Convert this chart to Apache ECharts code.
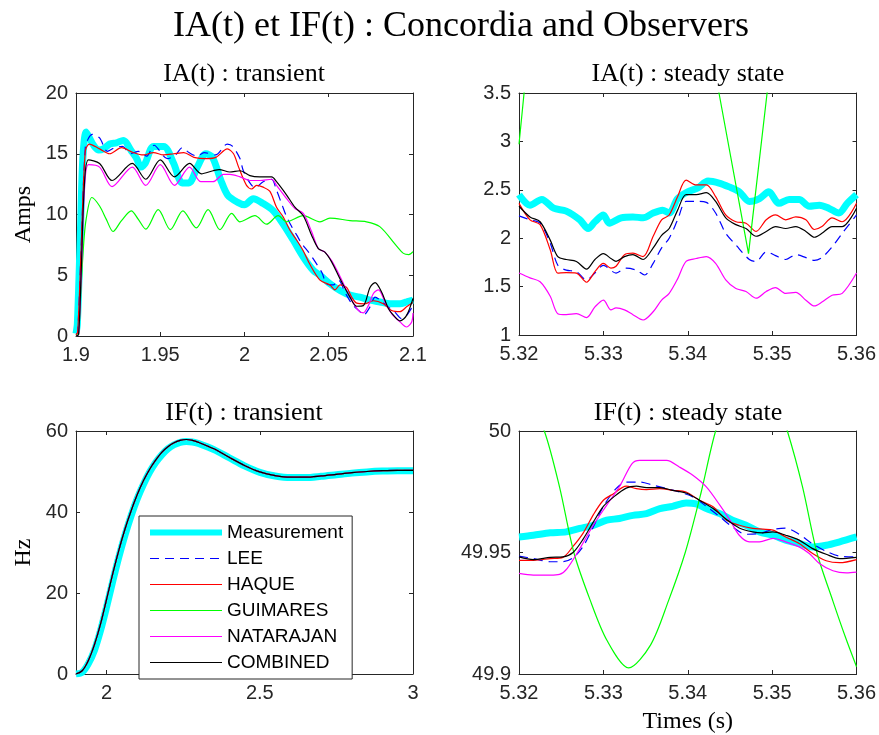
<!DOCTYPE html>
<html>
<head>
<meta charset="utf-8">
<script src="https://cdn.jsdelivr.net/npm/echarts@6/dist/echarts.min.js"></script>
<style>
html,body{margin:0;padding:0;background:#fff;}
#main{width:879px;height:735px;}
</style>
</head>
<body>
<div id="main"></div>
<script>
// legend names, in plot order
var names = ['Measurement', 'LEE', 'HAQUE', 'GUIMARES', 'NATARAJAN', 'COMBINED'];

// ---- IA(t) : transient ----
var iaTrMeasT = [1.9, 1.9008, 1.9025, 1.904, 1.906, 1.908, 1.9104, 1.9135, 1.9163, 1.92, 1.924, 1.928, 1.933, 1.936, 1.9385, 1.941, 1.946, 1.952, 1.958, 1.963, 1.967, 1.972, 1.977, 1.981, 1.986, 1.99, 1.996, 2.0, 2.0052, 2.0111, 2.0171, 2.023, 2.0289, 2.0349, 2.0408, 2.0448, 2.0507, 2.0567, 2.0626, 2.0685, 2.0745, 2.0804, 2.0864, 2.0923, 2.0962, 2.1];
var iaTrMeasV = [0.2, 1, 8, 14.5, 16.8, 16.3, 15.7, 15.3, 15.4, 15.8, 15.9, 16.1, 15.2, 14.6, 13.9, 14.2, 15.6, 15.6, 14.2, 12.6, 12.6, 13.9, 15.0, 14.7, 12.8, 11.6, 11.0, 10.8, 11.3, 10.9, 10.3, 9.2, 7.9, 6.5, 5.4, 5.0, 4.3, 3.75, 3.36, 3.2, 2.95, 2.8, 2.65, 2.65, 2.8, 2.95];
var iaTrLeeT = [1.9, 1.901, 1.903, 1.9055, 1.9075, 1.9097, 1.914, 1.9186, 1.923, 1.9275, 1.9324, 1.937, 1.942, 1.9463, 1.9542, 1.9591, 1.963, 1.967, 1.972, 1.976, 1.9828, 1.9898, 1.993, 1.9973, 1.9993, 2.0032, 2.0062, 2.0111, 2.0161, 2.019, 2.022, 2.025, 2.028, 2.031, 2.034, 2.038, 2.042, 2.046, 2.0487, 2.0527, 2.0557, 2.06, 2.064, 2.0685, 2.0705, 2.0745, 2.0775, 2.081, 2.085, 2.089, 2.0933, 2.0962, 2.1];
var iaTrLeeV = [0.1, 0.3, 7, 15.5, 16.3, 16.6, 16.3, 15.2, 15.5, 15.6, 15.0, 15.2, 14.8, 15.7, 14.6, 14.9, 15.5, 15.1, 14.8, 15.1, 14.9, 15.8, 15.6, 14.6, 13.6, 12.6, 12.2, 12.7, 12.9, 12.0, 10.9, 9.8, 9.0, 8.3, 7.6, 6.9, 6.1, 5.2, 4.3, 4.2, 4.6, 3.5, 2.6, 2.0, 1.7, 2.4, 3.2, 2.9, 2.4, 2.0, 1.43, 1.7, 2.5];
var iaTrHaqT = [1.9, 1.901, 1.903, 1.9055, 1.908, 1.914, 1.92, 1.927, 1.934, 1.94, 1.946, 1.952, 1.958, 1.964, 1.97, 1.978, 1.983, 1.9898, 1.9935, 1.9965, 2.0012, 2.0042, 2.0072, 2.0111, 2.0151, 2.019, 2.023, 2.027, 2.0309, 2.0349, 2.0388, 2.0448, 2.0507, 2.0537, 2.0567, 2.0606, 2.0636, 2.0666, 2.0715, 2.0765, 2.0824, 2.0873, 2.0923, 2.0962, 2.1];
var iaTrHaqV = [0.1, 0.3, 7, 15.2, 15.8, 15.4, 15.0, 15.5, 15.1, 14.9, 15.1, 14.9, 15.0, 15.1, 14.7, 14.6, 14.7, 15.4, 15.0, 13.9, 12.4, 12.1, 12.4, 12.25, 11.9, 10.6, 9.8, 8.7, 7.9, 7.0, 5.9, 4.6, 4.2, 3.8, 4.2, 4.0, 3.2, 2.7, 2.65, 2.9, 2.65, 2.1, 2.0, 2.4, 2.75];
var iaTrGuiT = [1.9, 1.9015, 1.903, 1.9045, 1.906, 1.9094, 1.914, 1.918, 1.922, 1.927, 1.9328, 1.937, 1.9414, 1.9488, 1.956, 1.9634, 1.9714, 1.9784, 1.9854, 1.9924, 1.9973, 2.0062, 2.0131, 2.02, 2.025, 2.0349, 2.0448, 2.0507, 2.0626, 2.0724, 2.0803, 2.0903, 2.0943, 2.0975, 2.1];
var iaTrGuiV = [0, 0.2, 4, 7.5, 9.6, 11.4, 10.7, 9.6, 8.6, 9.5, 10.3, 9.6, 8.8, 10.4, 8.75, 10.3, 8.9, 10.4, 8.75, 10.1, 9.4, 9.9, 9.2, 9.9, 9.4, 9.9, 9.4, 9.7, 9.5, 9.4, 9.0, 7.4, 6.8, 6.7, 6.95];
var iaTrNatT = [1.9, 1.9015, 1.903, 1.905, 1.9074, 1.914, 1.9214, 1.9334, 1.9414, 1.95, 1.9584, 1.9674, 1.974, 1.9813, 1.9875, 1.9913, 1.9973, 2.0032, 2.0091, 2.0161, 2.019, 2.025, 2.0299, 2.0349, 2.0398, 2.0438, 2.0477, 2.0517, 2.0567, 2.0626, 2.0676, 2.0705, 2.0735, 2.0765, 2.0795, 2.0834, 2.0873, 2.0923, 2.0962, 2.0992, 2.1];
var iaTrNatV = [0, 0.1, 4.5, 12, 14.1, 13.9, 12.3, 13.9, 12.4, 14.1, 12.4, 13.9, 12.7, 12.7, 13.3, 13.3, 13.1, 12.8, 12.8, 12.9, 12.4, 11.3, 10.5, 10.1, 8.6, 7.2, 6.9, 6.2, 4.9, 3.2, 2.1, 1.9, 2.5, 3.5, 3.8, 2.8, 1.85, 1.16, 0.74, 1.16, 1.9];
var iaTrComT = [1.9, 1.9015, 1.903, 1.905, 1.9074, 1.914, 1.9214, 1.9334, 1.9414, 1.95, 1.9584, 1.9674, 1.9744, 1.9813, 1.985, 1.9913, 1.9973, 2.0032, 2.0091, 2.0161, 2.019, 2.025, 2.0299, 2.0349, 2.0398, 2.0438, 2.0477, 2.0517, 2.0567, 2.0626, 2.0666, 2.0705, 2.0745, 2.0775, 2.0814, 2.0854, 2.0893, 2.0923, 2.0962, 2.1];
var iaTrComV = [0, 0.1, 5, 12.5, 14.5, 14.2, 12.8, 14.2, 12.9, 14.5, 13.1, 14.2, 13.35, 13.6, 13.7, 13.5, 13.6, 13.2, 13.1, 13.1, 12.7, 11.6, 10.6, 9.9, 8.3, 7.2, 6.9, 6.1, 4.7, 3.2, 2.45, 2.5, 4.0, 4.4, 3.6, 2.26, 1.57, 1.24, 1.7, 3.1];

// ---- IA(t) : steady state ----
var iaSsT = [5.3200, 5.3213, 5.3225, 5.3237, 5.3246, 5.3256, 5.3268, 5.3280, 5.3290, 5.3300, 5.3309, 5.3315, 5.3325, 5.3335, 5.3347, 5.3359, 5.3369, 5.3378, 5.3388, 5.3398, 5.3410, 5.3422, 5.3433, 5.3445, 5.3457, 5.3469, 5.3481, 5.3493, 5.3504, 5.3516, 5.3528, 5.3540, 5.3550, 5.3559, 5.3571, 5.3583, 5.3600];
var iaSsMeasT = [5.3200, 5.3213, 5.3227, 5.3241, 5.3256, 5.3272, 5.3282, 5.3290, 5.3300, 5.3307, 5.3321, 5.3335, 5.3347, 5.3359, 5.3370, 5.3378, 5.3388, 5.3400, 5.3412, 5.3424, 5.3437, 5.3449, 5.3461, 5.3473, 5.3485, 5.3496, 5.3508, 5.3520, 5.3532, 5.3544, 5.3556, 5.3567, 5.3579, 5.3589, 5.3600];
var iaSsMeasV = [2.45, 2.34, 2.40, 2.31, 2.28, 2.19, 2.10, 2.17, 2.24, 2.155, 2.21, 2.22, 2.21, 2.26, 2.29, 2.26, 2.41, 2.48, 2.52, 2.59, 2.57, 2.53, 2.48, 2.38, 2.41, 2.48, 2.36, 2.40, 2.40, 2.33, 2.34, 2.31, 2.26, 2.36, 2.45];
var iaSsLeeT = [5.3200, 5.3213, 5.3225, 5.3237, 5.3246, 5.3256, 5.3268, 5.3280, 5.3290, 5.3300, 5.3315, 5.3327, 5.3339, 5.3349, 5.3359, 5.3369, 5.3378, 5.3388, 5.3398, 5.3410, 5.3422, 5.3433, 5.3445, 5.3457, 5.3473, 5.3481, 5.3493, 5.3504, 5.3516, 5.3528, 5.3540, 5.3550, 5.3559, 5.3571, 5.3583, 5.3600];
var iaSsLeeV = [2.23, 2.19, 2.155, 1.95, 1.72, 1.67, 1.655, 1.57, 1.64, 1.72, 1.64, 1.69, 1.67, 1.62, 1.74, 1.90, 2.0, 2.19, 2.38, 2.38, 2.37, 2.26, 2.05, 1.93, 1.78, 1.76, 1.86, 1.82, 1.78, 1.83, 1.80, 1.77, 1.80, 1.91, 2.05, 2.24];
var iaSsHaqV = [2.36, 2.19, 2.14, 1.88, 1.64, 1.645, 1.64, 1.545, 1.655, 1.74, 1.69, 1.71, 1.83, 1.845, 1.81, 2.02, 2.19, 2.24, 2.43, 2.60, 2.55, 2.55, 2.43, 2.24, 2.17, 2.155, 2.07, 2.19, 2.24, 2.19, 2.22, 2.19, 2.09, 2.12, 2.21, 2.17, 2.36];
var iaSsGuiT = [5.32, 5.3206, 5.3212, 5.3225, 5.333, 5.3425, 5.3431, 5.3437, 5.3472, 5.3494, 5.3502, 5.352, 5.36];
var iaSsGuiV = [2.97, 3.5, 4.0, 5.0, 12, 5.0, 4.0, 3.5, 1.84, 3.5, 4.3, 6, 13];
var iaSsNatV = [1.64, 1.59, 1.55, 1.40, 1.22, 1.21, 1.22, 1.18, 1.29, 1.36, 1.26, 1.28, 1.26, 1.21, 1.155, 1.24, 1.36, 1.43, 1.58, 1.76, 1.79, 1.81, 1.74, 1.57, 1.48, 1.45, 1.38, 1.45, 1.49, 1.43, 1.44, 1.36, 1.30, 1.34, 1.41, 1.43, 1.64];
var iaSsComV = [2.33, 2.22, 2.17, 1.98, 1.81, 1.78, 1.76, 1.68, 1.78, 1.84, 1.79, 1.76, 1.81, 1.83, 1.78, 1.90, 2.03, 2.10, 2.29, 2.45, 2.45, 2.47, 2.38, 2.21, 2.14, 2.10, 2.02, 2.07, 2.12, 2.10, 2.12, 2.07, 2.01, 2.05, 2.12, 2.12, 2.31];

// ---- IF(t) : transient ----
var ifTrT = [1.9, 1.92, 1.94, 1.96, 1.98, 2.0, 2.02, 2.04, 2.06, 2.08, 2.1, 2.12, 2.14, 2.16, 2.18, 2.2, 2.22, 2.24, 2.26, 2.28, 2.3, 2.35, 2.4, 2.45, 2.5, 2.55, 2.6, 2.65, 2.7, 2.75, 2.8, 2.85, 2.9, 2.95, 3.0];
var ifTrMeasV = [0, 0.4, 2.5, 5.8, 10.7, 16.6, 22.9, 28.9, 34.3, 39.1, 43.3, 46.8, 49.8, 52.2, 54.1, 55.6, 56.6, 57.2, 57.4, 57.3, 56.9, 55.4, 53.4, 51.4, 49.8, 48.9, 48.5, 48.5, 48.8, 49.2, 49.6, 49.9, 50.1, 50.2, 50.2];
// the five observers overlap on this scale
var ifTrObsV = [0, 0.8, 3.3, 7.2, 12.3, 18.5, 24.8, 30.6, 35.8, 40.3, 44.3, 47.7, 50.5, 52.8, 54.7, 56.1, 57.1, 57.7, 57.9, 57.7, 57.2, 55.6, 53.5, 51.5, 49.9, 49.0, 48.6, 48.6, 48.9, 49.3, 49.7, 50.0, 50.2, 50.3, 50.3];
var ifTrTicks = [2, 2.5, 3];

// ---- IF(t) : steady state ----
var ifSsT = [5.32, 5.3217, 5.3237, 5.3252, 5.3264, 5.3276, 5.3288, 5.33, 5.3312, 5.3327, 5.3339, 5.3351, 5.3367, 5.3382, 5.3398, 5.3414, 5.343, 5.3446, 5.3461, 5.3477, 5.3489, 5.3501, 5.3516, 5.3532, 5.3548, 5.3564, 5.358, 5.36];
var ifSsMeasT = [5.32, 5.3217, 5.3237, 5.3256, 5.3272, 5.3288, 5.3304, 5.3319, 5.3335, 5.3351, 5.3367, 5.3382, 5.3398, 5.341, 5.3422, 5.3438, 5.3453, 5.3469, 5.3485, 5.3501, 5.3516, 5.3532, 5.3548, 5.3564, 5.358, 5.36];
var ifSsMeasV = [49.9564, 49.9571, 49.9581, 49.9585, 49.9599, 49.9612, 49.9633, 49.964, 49.9653, 49.966, 49.9681, 49.969, 49.9704, 49.97, 49.9681, 49.966, 49.9633, 49.9612, 49.9585, 49.9571, 49.9551, 49.9537, 49.9523, 49.953, 49.9544, 49.9564];
var ifSsLeeT = [5.32, 5.3217, 5.3237, 5.3252, 5.3264, 5.3276, 5.3288, 5.33, 5.3315, 5.3327, 5.3343, 5.3359, 5.3375, 5.339, 5.3406, 5.3422, 5.3438, 5.3453, 5.3469, 5.3485, 5.3501, 5.3516, 5.3532, 5.3548, 5.3564, 5.358, 5.36];
var ifSsLeeV = [49.9485, 49.9475, 49.9462, 49.9462, 49.9478, 49.9525, 49.9605, 49.969, 49.9763, 49.979, 49.979, 49.9777, 49.9763, 49.9749, 49.9729, 49.969, 49.9647, 49.9605, 49.9575, 49.9578, 49.9595, 49.96, 49.9575, 49.9535, 49.9505, 49.9485, 49.9482];
var ifSsHaqV = [49.9468, 49.9468, 49.9475, 49.948, 49.9525, 49.958, 49.9655, 49.9715, 49.9742, 49.9773, 49.9763, 49.9759, 49.9763, 49.9756, 49.9749, 49.9715, 49.9688, 49.9633, 49.9612, 49.9599, 49.9596, 49.9592, 49.9564, 49.9537, 49.9496, 49.9466, 49.9458, 49.9471];
var ifSsGuiT = [5.32, 5.323, 5.3248, 5.3265, 5.3284, 5.3304, 5.333, 5.3356, 5.3377, 5.3397, 5.3416, 5.3433, 5.3455, 5.3475, 5.3497, 5.3518, 5.3536, 5.3553, 5.3572, 5.3587, 5.36];
var ifSsGuiV = [50.024, 50.0, 49.977, 49.95, 49.9307, 49.914, 49.9025, 49.912, 49.93, 49.95, 49.975, 50.0, 50.021, 50.027, 50.021, 50.0, 49.977, 49.95, 49.93, 49.915, 49.903];
var ifSsNatT = [5.32, 5.3217, 5.3237, 5.3248, 5.3257, 5.3272, 5.3288, 5.3304, 5.332, 5.3334, 5.3343, 5.3359, 5.3375, 5.339, 5.3406, 5.3422, 5.3438, 5.345, 5.3461, 5.3473, 5.3485, 5.3501, 5.3516, 5.3532, 5.3544, 5.3556, 5.3572, 5.3588, 5.36];
var ifSsNatV = [49.9414, 49.9407, 49.9407, 49.941, 49.9434, 49.9516, 49.9612, 49.9695, 49.9777, 49.9866, 49.9879, 49.9879, 49.9879, 49.9852, 49.9818, 49.977, 49.9695, 49.9633, 49.9571, 49.9544, 49.9544, 49.9558, 49.9544, 49.9523, 49.9496, 49.9455, 49.9425, 49.9416, 49.9419];
var ifSsComV = [49.9482, 49.9471, 49.948, 49.9482, 49.950, 49.9555, 49.9625, 49.969, 49.9728, 49.9765, 49.9773, 49.9767, 49.9767, 49.9756, 49.9745, 49.9715, 49.9681, 49.9636, 49.9601, 49.9585, 49.9581, 49.9585, 49.9571, 49.9551, 49.9516, 49.9493, 49.9475, 49.948];

var axisColor = '#262626';
var sansFont = 'Liberation Sans';
var serifFont = 'Liberation Serif';

var styles = {
  'Measurement': {color: '#00ffff', width: 7, type: 'solid'},
  'LEE': {color: '#0000ff', width: 1.2, type: [9, 6]},
  'HAQUE': {color: '#ff0000', width: 1.2, type: 'solid'},
  'GUIMARES': {color: '#00ff00', width: 1.2, type: 'solid'},
  'NATARAJAN': {color: '#ff00ff', width: 1.2, type: 'solid'},
  'COMBINED': {color: '#000000', width: 1.2, type: 'solid'}
};

function zip(t, v) {
  var out = [];
  for (var i = 0; i < t.length; i++) out.push([t[i], v[i]]);
  return out;
}

function fnLine(name, idx, t, v, smooth) {
  var s = styles[name];
  return {
    name: name, type: 'line', xAxisIndex: idx, yAxisIndex: idx,
    data: zip(t, v), symbol: 'none', showSymbol: false,
    smooth: smooth === undefined ? 0.3 : smooth,
    clip: true, silent: true,
    lineStyle: {color: s.color, width: s.width, type: s.type},
    itemStyle: {color: s.color},
    emphasis: {disabled: true}
  };
}

var grids = [
  {left: 76, top: 93, width: 337, height: 243},
  {left: 519, top: 93, width: 339, height: 242},
  {left: 76, top: 431, width: 337, height: 243},
  {left: 519, top: 431, width: 339, height: 243}
];

var xRange = [
  {min: 1.9, max: 2.1, interval: 0.05},
  {min: 5.32, max: 5.36, interval: 0.01},
  {min: 1.9, max: 3, ticks: ifTrTicks},
  {min: 5.32, max: 5.36, interval: 0.01}
];
var yRange = [
  {min: 0, max: 20, interval: 5},
  {min: 1, max: 3.5, interval: 0.5},
  {min: 0, max: 60, interval: 20},
  {min: 49.9, max: 50, interval: 0.05}
];

function fnAxis(r, i, pos, labels) {
  var ax = {
    type: 'value', gridIndex: i, position: pos, min: r.min, max: r.max,
    axisLine: {show: true, onZero: false, lineStyle: {color: axisColor, width: 1}},
    axisTick: {show: true, inside: true, length: 4, lineStyle: {color: axisColor, width: 1}},
    axisLabel: {show: labels, color: axisColor, fontFamily: sansFont, fontSize: 20,
      margin: (pos === 'left' ? 8 : 9)},
    splitLine: {show: false}
  };
  if (r.ticks) {
    ax.axisTick.customValues = r.ticks;
    ax.axisLabel.customValues = r.ticks;
  } else {
    ax.interval = r.interval;
  }
  return ax;
}

var xAxes = [], yAxes = [];
for (var i = 0; i < 4; i++) {
  xAxes.push(fnAxis(xRange[i], i, 'bottom', true));
  yAxes.push(fnAxis(yRange[i], i, 'left', true));
}
for (var j = 0; j < 4; j++) {
  xAxes.push(fnAxis(xRange[j], j, 'top', false));
  yAxes.push(fnAxis(yRange[j], j, 'right', false));
}

var nameStyle = {fontFamily: serifFont, fontSize: 24, color: '#000'};
yAxes[0].name = 'Amps';
yAxes[0].nameLocation = 'middle';
yAxes[0].nameGap = 40;
yAxes[0].nameTextStyle = nameStyle;
yAxes[2].name = 'Hz';
yAxes[2].nameLocation = 'middle';
yAxes[2].nameGap = 40;
yAxes[2].nameTextStyle = nameStyle;
xAxes[3].name = 'Times (s)';
xAxes[3].nameLocation = 'middle';
xAxes[3].nameGap = 36;
xAxes[3].nameTextStyle = nameStyle;

var series = [
  fnLine('Measurement', 0, iaTrMeasT, iaTrMeasV),
  fnLine('LEE', 0, iaTrLeeT, iaTrLeeV),
  fnLine('HAQUE', 0, iaTrHaqT, iaTrHaqV),
  fnLine('GUIMARES', 0, iaTrGuiT, iaTrGuiV),
  fnLine('NATARAJAN', 0, iaTrNatT, iaTrNatV),
  fnLine('COMBINED', 0, iaTrComT, iaTrComV),

  fnLine('Measurement', 1, iaSsMeasT, iaSsMeasV),
  fnLine('LEE', 1, iaSsLeeT, iaSsLeeV),
  fnLine('HAQUE', 1, iaSsT, iaSsHaqV),
  fnLine('GUIMARES', 1, iaSsGuiT, iaSsGuiV, false),
  fnLine('NATARAJAN', 1, iaSsT, iaSsNatV),
  fnLine('COMBINED', 1, iaSsT, iaSsComV),

  fnLine('Measurement', 2, ifTrT, ifTrMeasV),
  fnLine('LEE', 2, ifTrT, ifTrObsV),
  fnLine('HAQUE', 2, ifTrT, ifTrObsV),
  fnLine('GUIMARES', 2, ifTrT, ifTrObsV),
  fnLine('NATARAJAN', 2, ifTrT, ifTrObsV),
  fnLine('COMBINED', 2, ifTrT, ifTrObsV),

  fnLine('Measurement', 3, ifSsMeasT, ifSsMeasV),
  fnLine('LEE', 3, ifSsLeeT, ifSsLeeV),
  fnLine('HAQUE', 3, ifSsT, ifSsHaqV),
  fnLine('GUIMARES', 3, ifSsGuiT, ifSsGuiV),
  fnLine('NATARAJAN', 3, ifSsNatT, ifSsNatV),
  fnLine('COMBINED', 3, ifSsT, ifSsComV)
];

// legend entries: plain line icons, no marker
var legendData = [];
for (var k = 0; k < names.length; k++) {
  legendData.push({
    name: names[k],
    lineStyle: {width: names[k] === 'Measurement' ? 6 : 1.2},
    itemStyle: {color: 'rgba(0,0,0,0)', borderColor: 'rgba(0,0,0,0)', borderWidth: 0, opacity: 0}
  });
}

function fnTitle(text, x, y, size) {
  return {text: text, left: x, top: y, textAlign: 'center', padding: 0,
    textStyle: {fontFamily: serifFont, fontSize: size, fontWeight: 'normal', color: '#000'}};
}

var option = {
  animation: false,
  backgroundColor: '#fff',
  title: [
    fnTitle('IA(t) et IF(t) : Concordia and Observers', 461, 9, 36),
    fnTitle('IA(t) : transient', 244, 61, 26),
    fnTitle('IA(t) : steady state', 688, 61, 26),
    fnTitle('IF(t) : transient', 244, 400, 26),
    fnTitle('IF(t) : steady state', 688, 400, 26)
  ],
  legend: {
    data: legendData, orient: 'vertical', left: 139, top: 516,
    padding: [7, 9, 7, 8], itemGap: 7, itemWidth: 72, itemHeight: 14,
    borderColor: axisColor, borderWidth: 1, borderRadius: 0, backgroundColor: '#fff',
    selectedMode: false,
    textStyle: {fontFamily: sansFont, fontSize: 19, lineHeight: 18, color: '#000'}
  },
  grid: grids,
  xAxis: xAxes,
  yAxis: yAxes,
  series: series
};

var myChart = echarts.init(document.getElementById('main'));
myChart.setOption(option);
</script>
</body>
</html>
